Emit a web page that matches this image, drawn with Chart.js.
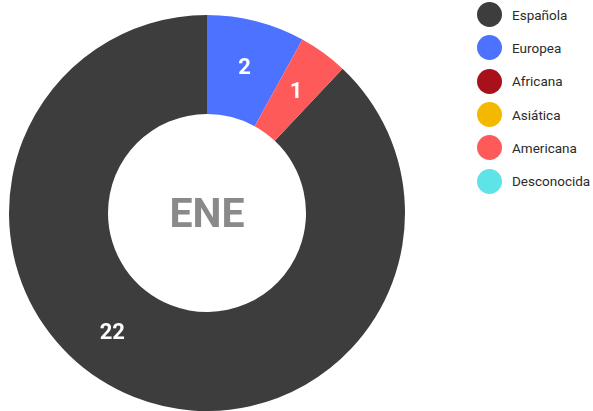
<!DOCTYPE html>
<html>
<head>
<meta charset="utf-8">
<script src="https://cdn.jsdelivr.net/npm/chart.js@4"></script>
<style>
  html, body { margin: 0; padding: 0; background: #fff; }
  #wrap { position: relative; width: 593px; height: 411px; overflow: hidden; }
  #box { position: absolute; left: 0; top: 0; width: 414px; height: 411px; }
  #leyenda { position: absolute; left: 477px; top: -2px; margin: 0; padding: 0; list-style: none;
             font-family: Roboto, "Noto Sans", sans-serif; font-size: 13.5px; color: #2b2b2b; }
  #leyenda li { height: 33.33px; display: flex; align-items: center; white-space: nowrap; }
  #leyenda span.dot { width: 25px; height: 25px; border-radius: 50%; margin-right: 10px; flex: none; }
</style>
</head>
<body>
<div id="wrap">
  <div id="box"><canvas id="grafico"></canvas></div>
  <ul id="leyenda"></ul>
</div>
<script>
// procedencias
var etiquetas = ["Española", "Europea", "Africana", "Asiática", "Americana", "Desconocida"];
// personas por procedencia (enero)
var valores = [22, 2, 0, 0, 1, 0];
var mes = "ENE";

var colores = ["#3d3d3d", "#4d72ff", "#a8101c", "#f5b800", "#ff5a5a", "#5ee3e6"];

// Española termina arriba: el resto empieza a las 12
var total = valores.reduce(function (a, b) { return a + b; }, 0);
var giro = 360 * (total - valores[0]) / total;

// posicion de cada numero a lo largo del arco (0.5 = mitad)
var posEtiqueta = [0.554, 0.5, 0.5, 0.5, 0.5, 0.5];

// texto del mes en el hueco
var textoCentro = {
    id: 'textoCentro',
    afterDraw: function (chart) {
        var ctx = chart.ctx;
        var a = chart.getDatasetMeta(0).data[0];
        ctx.save();
        ctx.font = "bold 41px Roboto, sans-serif";
        ctx.fillStyle = "#8a8a8a";
        ctx.textAlign = "center";
        ctx.textBaseline = "alphabetic";
        ctx.fillText(mes, a.x, a.y + 14);
        ctx.restore();
    }
};

// numeros sobre cada porcion
var numeros = {
    id: 'numeros',
    afterDatasetsDraw: function (chart) {
        var ctx = chart.ctx;
        var meta = chart.getDatasetMeta(0);
        ctx.save();
        ctx.font = "bold 22px Roboto, sans-serif";
        ctx.fillStyle = "#ffffff";
        ctx.textAlign = "center";
        ctx.textBaseline = "middle";
        meta.data.forEach(function (arc, i) {
            if (!valores[i]) return;
            var ang = arc.startAngle + (arc.endAngle - arc.startAngle) * posEtiqueta[i];
            var r = (arc.innerRadius + arc.outerRadius) / 2 + 3;
            ctx.fillText(String(valores[i]), arc.x + Math.cos(ang) * r, arc.y + Math.sin(ang) * r + 2);
        });
        ctx.restore();
    }
};

var grafico = new Chart(document.getElementById("grafico"), {
    type: 'doughnut',
    data: {
        labels: etiquetas,
        datasets: [{
            data: valores,
            backgroundColor: colores,
            borderWidth: 0
        }]
    },
    options: {
        responsive: true,
        maintainAspectRatio: false,
        animation: false,
        cutout: '50%',
        rotation: giro,
        layout: { padding: { top: 15 } },
        plugins: {
            legend: { display: false },
            tooltip: { enabled: false }
        }
    },
    plugins: [textoCentro, numeros]
});

// leyenda en html
var ul = document.getElementById("leyenda");
etiquetas.forEach(function (nombre, i) {
    var li = document.createElement("li");
    var dot = document.createElement("span");
    dot.className = "dot";
    dot.style.background = colores[i];
    li.appendChild(dot);
    li.appendChild(document.createTextNode(nombre));
    ul.appendChild(li);
});
</script>
</body>
</html>
